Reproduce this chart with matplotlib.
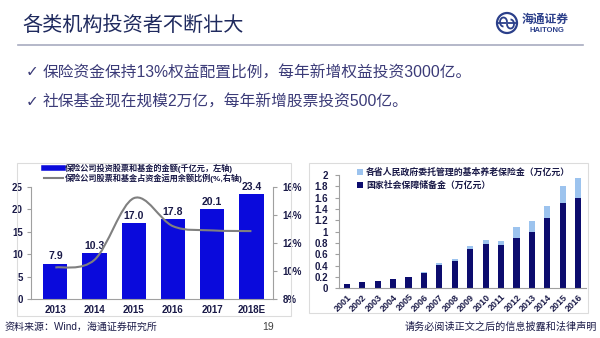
import numpy as np
import matplotlib
matplotlib.use('Agg')
import matplotlib.pyplot as plt
from matplotlib.path import Path
from matplotlib.patches import PathPatch, Rectangle, Circle, Arc
from matplotlib.lines import Line2D

plt.rcParams['font.family'] = ['Liberation Sans', 'Noto Sans CJK SC', 'DejaVu Sans']

# 保险公司：股票和基金投资
ins_years = ['2013', '2014', '2015', '2016', '2017', '2018E']
ins_amount = [7.9, 10.3, 17.0, 17.8, 20.1, 23.4]          # 千亿元，左轴
ins_ratio = [10.25, 10.8, 15.2, 13.2, 12.9, 12.85]         # %，右轴

# 社保基金规模（万亿元）
ss_years = ['2001', '2002', '2003', '2004', '2005', '2006', '2007', '2008',
            '2009', '2010', '2011', '2012', '2013', '2014', '2015', '2016']
ss_national = [0.08, 0.12, 0.13, 0.17, 0.20, 0.27, 0.41, 0.48,
               0.69, 0.78, 0.77, 0.88, 0.99, 1.235, 1.50, 1.59]
ss_province = [0.0, 0.0, 0.0, 0.0, 0.0, 0.01, 0.03, 0.04,
               0.05, 0.07, 0.07, 0.20, 0.20, 0.215, 0.306, 0.357]

navy = '#1f2a5e'
txt = '#1a1a48'
W, H = 600, 338


def fx(px):
    return px / W


def fy(py):
    return 1 - py / H


def smooth_path(xs, ys):
    # 平滑曲线：Catmull-Rom 转三次贝塞尔
    pts = np.column_stack([xs, ys]).astype(float)
    ext = np.vstack([pts[0], pts, pts[-1]])
    verts = [pts[0]]
    codes = [Path.MOVETO]
    for i in range(len(pts) - 1):
        p0, p1, p2, p3 = ext[i], ext[i + 1], ext[i + 2], ext[i + 3]
        verts += [p1 + (p2 - p0) / 6, p2 - (p3 - p1) / 6, p2]
        codes += [Path.CURVE4] * 3
    return Path(verts, codes)


fig = plt.figure(figsize=(6, 3.38), dpi=100)

# 标题与分隔线
fig.text(fx(22), fy(25), '各类机构投资者不断壮大', fontsize=14.5, color=navy,
         va='center', family=['Noto Sans CJK SC'])
fig.add_artist(Line2D([fx(18), fx(583)], [fy(45), fy(45)], color='#a8acc0', lw=1.2))

# 公司标志
lax = fig.add_axes([fx(495), fy(35), 24 / W, 24 / H])
lax.set_xlim(-1.2, 1.2)
lax.set_ylim(-1.2, 1.2)
lax.set_aspect('equal')
lax.axis('off')
logo_c = '#2b3f8a'
lax.add_patch(Circle((0, 0), 1.0, fill=False, lw=1.6, color=logo_c))
lax.add_patch(Arc((-0.35, 0.1), 0.7, 0.9, theta1=0, theta2=270, lw=1.3, color=logo_c))
lax.add_patch(Arc((0.35, -0.1), 0.7, 0.9, theta1=180, theta2=450, lw=1.3, color=logo_c))
lax.plot([-0.9, 0.9], [0, 0], color=logo_c, lw=1.3)
fig.text(fx(522), fy(19), '海通证券', fontsize=8.5, color=logo_c, va='center',
         family=['Noto Sans CJK SC'], fontweight='bold')
fig.text(fx(530), fy(31), 'HAITONG', fontsize=5.5, color=logo_c, va='center',
         fontweight='bold')

# 要点
bullet_c = '#3b3b78'
for py, s in [(72, '保险资金保持13%权益配置比例，每年新增权益投资3000亿。'),
              (102, '社保基金现在规模2万亿，每年新增股票投资500亿。')]:
    fig.text(fx(26), fy(py), '✓', fontsize=11, color=bullet_c, va='center',
             family=['DejaVu Sans'])
    fig.text(fx(43), fy(py), s, fontsize=11.3, color=bullet_c, va='center')

# 图框
for x0, x1, y0, y1 in [(17, 291, 163, 316), (309, 588, 163, 313)]:
    fig.add_artist(Rectangle((fx(x0), fy(y1)), fx(x1) - fx(x0), (y1 - y0) / H,
                             transform=fig.transFigure, fill=False,
                             ec='#dcdcdc', lw=0.8))

# 左图：保险公司
bar_c = '#0a0adc'
line_c = '#808080'
axis_c = '#a0a0a0'
ax1 = fig.add_axes([fx(31), fy(299), (273 - 31) / W, (299 - 187) / H])
xi = np.arange(len(ins_years))
ax1.bar(xi, ins_amount, width=0.62, color=bar_c, zorder=2)
for i, v in enumerate(ins_amount):
    ax1.text(i, v + 0.5, f'{v:.1f}', ha='center', va='bottom', fontsize=7.5,
             fontweight='bold', color=txt, zorder=4)
ax1.set_xlim(-0.62, 5.55)
ax1.set_ylim(0, 25)
ax1.set_yticks(range(0, 26, 5))
ax1.set_xticks(xi, ins_years)
ax1.tick_params(axis='y', length=3, color=axis_c, labelsize=7, labelcolor=txt, pad=3)
ax1.tick_params(axis='x', length=0, labelsize=7, labelcolor=txt, pad=4)
for s in ['top', 'right']:
    ax1.spines[s].set_visible(False)
for s in ['left', 'bottom']:
    ax1.spines[s].set_color(axis_c)

ax2 = ax1.twinx()
ax2.set_ylim(8, 16)
ax2.set_yticks(range(8, 17, 2), [f'{v}%' for v in range(8, 17, 2)])
ax2.tick_params(axis='y', length=3, color=axis_c, labelsize=7, labelcolor=txt, pad=4)
for s in ['top', 'left', 'bottom']:
    ax2.spines[s].set_visible(False)
ax2.spines['right'].set_color(axis_c)
ax2.add_patch(PathPatch(smooth_path(xi, ins_ratio), fill=False, ec=line_c, lw=1.5,
                        zorder=3))
for lab in ax1.get_xticklabels() + ax1.get_yticklabels() + ax2.get_yticklabels():
    lab.set_fontweight('bold')

ax1.legend([Line2D([], [], color=bar_c, lw=4), Line2D([], [], color=line_c, lw=1.5)],
           ['保险公司投资股票和基金的金额(千亿元，左轴)',
            '保险公司股票和基金占资金运用余额比例(%,右轴)'],
           loc='upper left', bbox_to_anchor=(fx(44), fy(163.5)),
           bbox_transform=fig.transFigure, frameon=False,
           prop={'size': 5.9, 'weight': 'bold'}, labelcolor=txt,
           handlelength=2.3, handletextpad=0.3, labelspacing=0.05, borderpad=0,
           borderaxespad=0)

# 右图：社保基金
dark_c = '#0c0c6e'
light_c = '#9cc3ee'
ax3 = fig.add_axes([fx(339), fy(288.3), (586 - 339) / W, (288.3 - 175) / H])
xs = np.arange(len(ss_years))
ax3.bar(xs, ss_national, width=0.4, color=dark_c, label='国家社会保障储备金（万亿元）')
ax3.bar(xs, ss_province, width=0.4, bottom=ss_national, color=light_c,
        label='各省人民政府委托管理的基本养老保险金（万亿元）')
ax3.set_xlim(-0.5, 15.5)
ax3.set_ylim(0, 2)
yt = np.arange(0, 2.01, 0.2)
ax3.set_yticks(yt, [f'{v:g}' for v in np.round(yt, 1)])
ax3.set_xticks(xs, ss_years, rotation=45, ha='right', rotation_mode='anchor')
ax3.tick_params(axis='y', length=3, color=axis_c, labelsize=7, labelcolor=txt, pad=5)
ax3.tick_params(axis='x', length=0, labelsize=6.5, labelcolor=txt, pad=3)
for lab in ax3.get_xticklabels() + ax3.get_yticklabels():
    lab.set_fontweight('bold')
for s in ['top', 'right']:
    ax3.spines[s].set_visible(False)
for s in ['left', 'bottom']:
    ax3.spines[s].set_color(axis_c)
h, l = ax3.get_legend_handles_labels()
ax3.legend(h[::-1], l[::-1], loc='upper left', bbox_to_anchor=(fx(357), fy(168)),
           bbox_transform=fig.transFigure, frameon=False,
           prop={'size': 6.4, 'weight': 'bold'}, labelcolor=txt,
           handlelength=0.7, handleheight=0.7, handletextpad=0.3,
           labelspacing=0.4, borderpad=0, borderaxespad=0)

# 页脚
fig.text(fx(5), fy(327), '资料来源：Wind，海通证券研究所', fontsize=7.2, color=txt, va='center')
fig.text(fx(268), fy(327), '19', fontsize=7.5, color='#404040', va='center', ha='center')
fig.text(fx(597), fy(327), '请务必阅读正文之后的信息披露和法律声明', fontsize=7.3, color=txt,
         va='center', ha='right')

fig.savefig('out.png', dpi=100)
